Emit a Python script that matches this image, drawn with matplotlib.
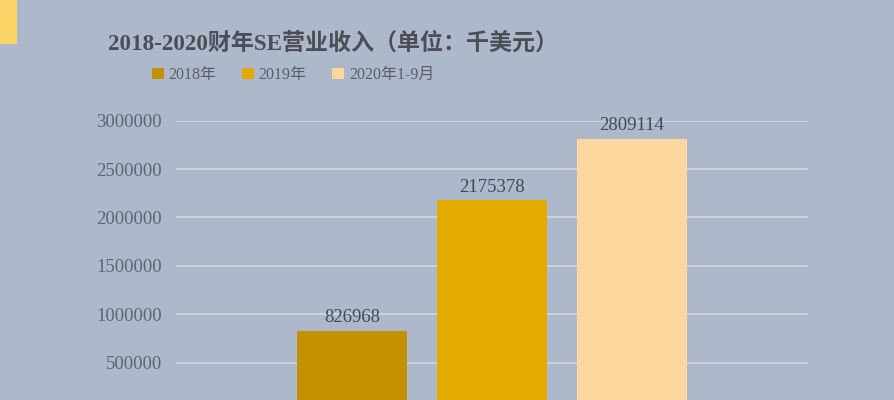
import matplotlib
matplotlib.use("Agg")
import matplotlib.pyplot as plt
from matplotlib.patches import Rectangle

# Data
series = ["2018年", "2019年", "2020年1-9月"]
values = [826968, 2175378, 2809114]
colors = ["#C49102", "#E3AA00", "#FDD79E"]
yticks = [500000, 1000000, 1500000, 2000000, 2500000, 3000000]
title = "2018-2020财年SE营业收入（单位：千美元）"

plt.rcParams['font.family'] = ['Liberation Serif', 'Noto Sans CJK SC', 'DejaVu Sans']

BG = "#ADB8CA"
fig = plt.figure(figsize=(8.94, 4.0), dpi=100, facecolor=BG)

# yellow corner block
fig.patches.append(Rectangle((0, 1 - 44/400), 17/894, 44/400, transform=fig.transFigure,
                             facecolor="#FDD468", edgecolor="none"))

ax = fig.add_axes([176/894, -11/400, 632/894, (411 - 120.7)/400])
ax.set_facecolor(BG)
ax.patch.set_alpha(0)

for i, (v, c, s) in enumerate(zip(values, colors, series)):
    b = ax.bar(i, v, width=0.79, color=c, label=s, zorder=3)
    ax.bar_label(b, labels=[f"{v}"], padding=3.5, fontsize=13.5, color="#444a55")

ax.set_xlim(-1.257, 3.257)
ax.set_ylim(0, 3000000)
ax.set_yticks(yticks)
ax.set_yticklabels([str(t) for t in yticks])
ax.tick_params(axis='y', length=0, pad=10, labelsize=13.5, labelcolor="#5f6572")
ax.set_xticks([])
ax.grid(axis='y', color="#CDD5E1", linewidth=1.3, zorder=0)
for sp in ax.spines.values():
    sp.set_visible(False)

fig.text(108/894, 1 - 43/400, title, fontsize=16.6, color="#4b4e56",
         ha='left', va='center', fontweight='semibold')

handles = [Rectangle((0, 0), 1, 1, facecolor=c, edgecolor="none") for c in colors]
leg = fig.legend(handles, series, loc='center', bbox_to_anchor=(293/894, 1 - 75/400),
                 ncol=3, frameon=False, fontsize=11.5, handlelength=0.75, handleheight=0.75,
                 handletextpad=0.3, columnspacing=1.6, labelcolor="#5a5e6a")

fig.savefig("out.png", dpi=100, facecolor=BG)
